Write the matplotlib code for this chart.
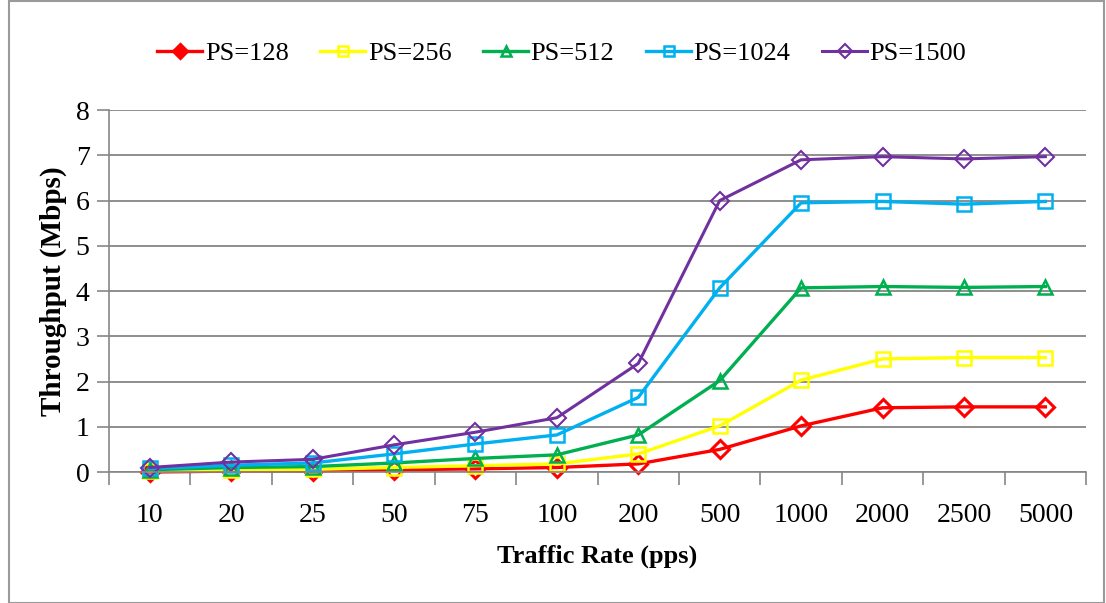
import matplotlib.pyplot as plt
from matplotlib.patches import Rectangle
from matplotlib.ticker import FixedLocator

# traffic rate categories (pps) and throughput per packet size (Mbps)
rates = ['10', '20', '25', '50', '75', '100', '200', '500', '1000', '2000', '2500', '5000']
ps128 = [0.0, 0.02, 0.02, 0.05, 0.07, 0.1, 0.18, 0.5, 1.02, 1.42, 1.44, 1.44]
ps256 = [0.02, 0.05, 0.06, 0.1, 0.14, 0.18, 0.4, 1.02, 2.03, 2.5, 2.53, 2.53]
ps512 = [0.05, 0.1, 0.12, 0.2, 0.3, 0.38, 0.82, 2.02, 4.07, 4.1, 4.08, 4.1]
ps1024 = [0.08, 0.15, 0.2, 0.4, 0.62, 0.82, 1.65, 4.07, 5.95, 5.98, 5.92, 5.98]
ps1500 = [0.1, 0.22, 0.28, 0.6, 0.88, 1.2, 2.4, 6.0, 6.9, 6.97, 6.92, 6.97]

plt.rcParams['font.family'] = ['Liberation Serif', 'DejaVu Serif']

fig = plt.figure(figsize=(11.06, 6.03), dpi=100)
fig.patches.append(Rectangle((0.008, 0.0), 0.99, 0.998, transform=fig.transFigure,
                             fill=False, edgecolor='#9a9a9a', linewidth=1.5))
ax = fig.add_axes([0.0986, 0.2172, 0.8834, 0.6003])

x = list(range(len(rates)))
series = [
    ('PS=128', ps128, '#FF0000', 'D', 2.4, 9, 2.2),
    ('PS=256', ps256, '#FFFF00', 's', 2.4, 10.5, 1.8),
    ('PS=512', ps512, '#00B050', '^', 2.4, 10.5, 1.8),
    ('PS=1024', ps1024, '#00B0F0', 's', 2.4, 10.5, 1.8),
    ('PS=1500', ps1500, '#7030A0', 'D', 2.2, 9, 1.5),
]
for label, vals, col, mk, lw, ms, mew in series:
    ax.plot(x, vals, color=col, lw=lw, marker=mk, markersize=ms,
            markerfacecolor='none', markeredgecolor=col, markeredgewidth=mew,
            label=label, clip_on=False)

ax.set_xlim(-0.5, len(rates) - 0.5)
ax.set_ylim(0, 8)
ax.set_yticks(range(0, 9))
ax.set_xticks(x)
ax.set_xticklabels(rates)
ax.xaxis.set_minor_locator(FixedLocator([i - 0.5 for i in range(len(rates) + 1)]))
ax.tick_params(axis='x', which='major', length=0, pad=22, labelsize=20)
ax.tick_params(axis='x', which='minor', length=9, color='#868686', width=1.2)
ax.tick_params(axis='y', length=9, color='#868686', width=1.2, labelsize=20, pad=5)
ax.grid(axis='y', color='#868686', lw=1.3)
ax.set_axisbelow(True)
for s in ['top', 'right']:
    ax.spines[s].set_visible(False)
for s in ['left', 'bottom']:
    ax.spines[s].set_color('#868686')
    ax.spines[s].set_linewidth(1.2)

ax.set_xlabel('Traffic Rate (pps)', fontsize=19, fontweight='bold', labelpad=12)
ax.set_ylabel('Throughput (Mbps)', fontsize=21, fontweight='bold', labelpad=6)

leg = fig.legend(loc='center', bbox_to_anchor=(0.508, 0.911), ncol=5, frameon=False,
                 fontsize=19, handlelength=1.7, handletextpad=0.1, columnspacing=1.2,
                 markerscale=0.75)
leg.legend_handles[0].set_markerfacecolor('#FF0000')

fig.savefig('out.png', dpi=100)
